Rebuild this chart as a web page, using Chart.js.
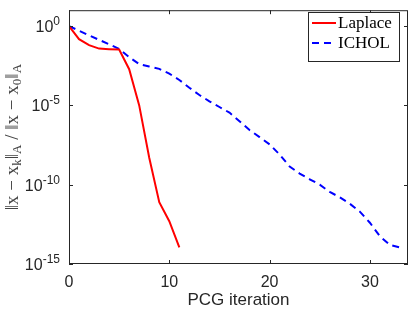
<!DOCTYPE html>
<html>
<head>
<meta charset="utf-8">
<script src="https://cdn.jsdelivr.net/npm/chart.js@4.4.1/dist/chart.umd.min.js"></script>
<style>
  html, body { margin: 0; padding: 0; background: #fff; }
  #wrap { width: 411px; height: 313px; }
</style>
</head>
<body>
<div id="wrap"><canvas id="pcgChart" width="411" height="313"></canvas></div>
<script>
// iterations
const iterLaplace = [0, 1, 2, 3, 4, 5, 6, 7, 8, 9, 10, 11];
const iterIchol = [0, 1, 2, 3, 4, 5, 6, 7, 8, 9, 10, 11, 12, 13, 14, 15, 16,
    17, 18, 19, 20, 21, 22, 23, 24, 25, 26, 27, 28, 29, 30, 31, 32, 33];

// relative A-norm error
const errLaplace = [1, 0.15, 0.063, 0.038, 0.035, 0.033, 1.9e-3, 1e-5, 5e-9,
    7.9e-12, 5e-13, 1.1e-14];
const errIchol = [1, 0.51, 0.26, 0.135, 0.071, 0.036, 0.011, 4.0e-3, 2.8e-3,
    2.0e-3, 1.0e-3, 4.0e-4, 1.3e-4, 4.5e-5, 1.8e-5, 7.9e-6, 3.5e-6, 1.0e-6,
    2.8e-7, 1.0e-7, 3.5e-8, 7.9e-9, 1.4e-9, 5.0e-10, 2.2e-10, 1.0e-10, 3.5e-11,
    1.6e-11, 6.3e-12, 2.0e-12, 4.0e-13, 5.6e-14, 1.6e-14, 1.1e-14];

const seriesNames = ['Laplace', 'ICHOL'];
const xTicks = [0, 10, 20, 30];
const yTicks = [1e-15, 1e-10, 1e-5, 1e0];
const yTickExp = ['-15', '-10', '-5', '0'];

const axisColor = '#262626';
const sansFamily = '"Liberation Sans", Arial, sans-serif';

function toPoints(xs, ys) {
    return xs.map((x, i) => ({ x: x, y: ys[i] }));
}

// box, inward ticks on all four sides, y tick labels as 10^n,
// rotated y label with subscripts, legend
const matlabAxes = {
    id: 'matlabAxes',
    afterDraw(chart) {
        const ctx = chart.ctx;
        const a = chart.chartArea;
        const xs = chart.scales.x, ys = chart.scales.y;
        ctx.save();
        ctx.strokeStyle = axisColor;
        ctx.lineWidth = 1;
        ctx.strokeRect(a.left + 0.5, a.top + 0.5, a.right - a.left - 1, a.bottom - a.top - 1);
        const tl = 4;
        ctx.beginPath();
        xTicks.forEach(v => {
            const px = Math.round(xs.getPixelForValue(v)) + 0.5;
            ctx.moveTo(px, a.bottom); ctx.lineTo(px, a.bottom - tl);
            ctx.moveTo(px, a.top); ctx.lineTo(px, a.top + tl);
        });
        yTicks.forEach(v => {
            const py = Math.round(ys.getPixelForValue(v)) + 0.5;
            ctx.moveTo(a.left, py); ctx.lineTo(a.left + tl, py);
            ctx.moveTo(a.right, py); ctx.lineTo(a.right - tl, py);
        });
        ctx.stroke();

        // y tick labels: "10" with raised exponent
        ctx.fillStyle = axisColor;
        ctx.textBaseline = 'alphabetic';
        yTicks.forEach((v, i) => {
            const py = ys.getPixelForValue(v);
            const right = a.left - 9;
            ctx.font = '12px ' + sansFamily;
            const ew = ctx.measureText(yTickExp[i]).width;
            ctx.textAlign = 'left';
            ctx.fillText(yTickExp[i], right - ew, py - 1);
            ctx.font = '16px ' + sansFamily;
            const bw = ctx.measureText('10').width;
            ctx.fillText('10', right - ew - bw, py + 6);
        });

        // y axis title
        const parts = [
            ['\u2016x \u2212 x', 0], ['k', 1], ['\u2016', 0], ['A', 1],
            [' / \u2016x \u2212 x', 0], ['0', 1], ['\u2016', 0], ['A', 1]
        ];
        const bigFont = '19px "Liberation Serif", serif';
        const smallFont = '13px "Liberation Serif", serif';
        let total = 0;
        parts.forEach(p => { ctx.font = p[1] ? smallFont : bigFont; total += ctx.measureText(p[0]).width; });
        ctx.translate(13, (a.top + a.bottom) / 2);
        ctx.rotate(-Math.PI / 2);
        ctx.fillStyle = '#444';
        ctx.textBaseline = 'middle';
        let cx = -total / 2;
        parts.forEach(p => {
            ctx.font = p[1] ? smallFont : bigFont;
            ctx.fillText(p[0], cx, p[1] ? 5 : 0);
            cx += ctx.measureText(p[0]).width;
        });
        ctx.restore();

        // legend
        ctx.save();
        const bx = 308, by = 12, bw = 91, bh = 49;
        ctx.fillStyle = '#fff';
        ctx.fillRect(bx, by, bw, bh);
        ctx.strokeStyle = axisColor;
        ctx.lineWidth = 1;
        ctx.strokeRect(bx + 0.5, by + 0.5, bw, bh);
        ctx.font = '17px "Liberation Serif", serif';
        ctx.textBaseline = 'middle';
        chart.data.datasets.forEach((ds, i) => {
            const ry = by + 11 + i * 20;
            ctx.strokeStyle = ds.borderColor;
            ctx.lineWidth = ds.borderWidth;
            ctx.setLineDash(ds.borderDash || []);
            ctx.beginPath();
            ctx.moveTo(bx + 4, ry);
            ctx.lineTo(bx + 28, ry);
            ctx.stroke();
            ctx.setLineDash([]);
            ctx.fillStyle = '#000';
            ctx.fillText(ds.label, bx + 30, ry + 1);
        });
        ctx.restore();
    }
};

const ctx = document.getElementById('pcgChart').getContext('2d');
new Chart(ctx, {
    type: 'line',
    data: {
        datasets: [
            {
                label: seriesNames[0],
                data: toPoints(iterLaplace, errLaplace),
                borderColor: '#ff0000',
                borderWidth: 2,
                pointRadius: 0,
                fill: false,
                tension: 0
            },
            {
                label: seriesNames[1],
                data: toPoints(iterIchol, errIchol),
                borderColor: '#0000ff',
                borderWidth: 2,
                borderDash: [7, 5],
                pointRadius: 0,
                fill: false,
                tension: 0
            }
        ]
    },
    options: {
        responsive: false,
        animation: false,
        layout: { padding: { top: 2, right: 3, left: 0, bottom: 0 } },
        plugins: {
            legend: { display: false },
            tooltip: { enabled: false }
        },
        scales: {
            x: {
                type: 'linear',
                min: 0,
                max: 33.8,
                afterBuildTicks: s => { s.ticks = xTicks.map(v => ({ value: v })); },
                afterFit: s => { s.height = 49; },
                grid: { display: false, drawTicks: false },
                border: { display: false },
                ticks: {
                    color: axisColor,
                    font: { family: sansFamily, size: 16 },
                    padding: 9,
                    maxRotation: 0
                },
                title: {
                    display: true,
                    text: 'PCG iteration',
                    color: axisColor,
                    font: { family: sansFamily, size: 17 },
                    padding: { top: 0, bottom: 2 }
                }
            },
            y: {
                type: 'logarithmic',
                min: 1e-15,
                max: 1e1,
                afterBuildTicks: s => { s.ticks = yTicks.map(v => ({ value: v })); },
                afterFit: s => { s.width = 69; },
                grid: { display: false, drawTicks: false },
                border: { display: false },
                ticks: {
                    // labels are drawn as 10^n by the matlabAxes plugin
                    callback: () => ''
                }
            }
        }
    },
    plugins: [matlabAxes]
});
</script>
</body>
</html>
